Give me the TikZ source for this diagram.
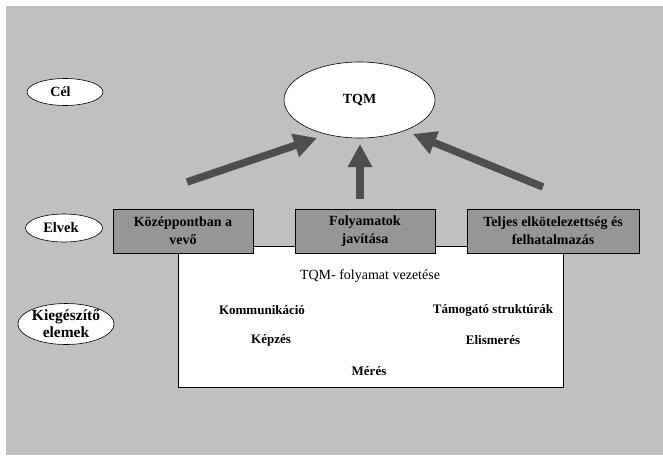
\documentclass[tikz,border=0pt]{standalone}
\usepackage{fontspec}
\setmainfont{Liberation Serif}
\usetikzlibrary{shapes.geometric,arrows.meta}
\definecolor{bggray}{RGB}{192,192,192}
\definecolor{boxgray}{RGB}{150,150,150}
\definecolor{arrowgray}{RGB}{78,78,78}
\tikzset{
  lbl/.style={ellipse,draw=black,line width=0.6pt,fill=white,inner sep=0pt,font=\fontsize{14}{16}\selectfont\bfseries,align=center},
  principle/.style={rectangle,draw=black,line width=0.8pt,fill=boxgray,inner sep=0pt,minimum height=44pt,align=center,font=\fontsize{14}{18}\selectfont\bfseries},
  item/.style={font=\fontsize{13}{15}\selectfont\bfseries,inner sep=0pt},
  bigarrow/.style={draw=arrowgray,line width=7.5pt,-{Triangle[width=23pt,length=23pt]},arrowgray}
}
\begin{document}
\begin{tikzpicture}[x=1pt,y=-1pt]
\useasboundingbox (0,0) rectangle (663,455);
\fill[bggray] (6,6) rectangle (663,455);

% left labels
\node[lbl,minimum width=76pt,minimum height=27pt] (cel) at (65,92) {C\'el\hspace{9pt}};
\node[lbl,minimum width=77pt,minimum height=28pt,font=\fontsize{14.5}{16}\selectfont\bfseries] (elvek) at (64,228) {Elvek\hspace{6pt}};
\node[lbl,minimum width=88pt,minimum height=41pt,font=\fontsize{15.5}{17}\selectfont\bfseries] (kieg) at (66,324) {Kieg\'esz\'it\H{o}\\elemek};

% goal
\node[ellipse,draw=black,line width=0.6pt,fill=white,minimum width=151pt,minimum height=76pt,inner sep=0pt,font=\fontsize{14}{16}\selectfont\bfseries] (tqm) at (359.5,100) {TQM};

% white supporting box
\node[rectangle,draw=black,line width=0.8pt,fill=white,minimum width=385pt,minimum height=141pt,inner sep=0pt] (support) at (370.5,316.5) {};

% principle boxes
\node[principle,minimum width=140pt] (p1) at (183,231) {K\"oz\'eppontban a\\vev\H{o}};
\node[principle,minimum width=140pt] (p2) at (365,231) {Folyamatok\\jav\'it\'asa};
\node[principle,minimum width=172pt] (p3) at (553,231) {Teljes elk\"otelezetts\'eg \'es\\felhatalmaz\'as};

% items in white box
\node[font=\fontsize{14}{16}\selectfont,inner sep=0pt] (lead) at (370,276) {TQM- folyamat vezet\'ese};
\node[item] (komm) at (262,310) {Kommunik\'aci\'o};
\node[item] (tam) at (493,310) {T\'amogat\'o strukt\'ur\'ak};
\node[item] (kep) at (271,340) {K\'epz\'es};
\node[item] (elis) at (493,340) {Elismer\'es};
\node[item] (mer) at (369,371) {M\'er\'es};

% arrows
\coordinate (a1) at (187,182);
\coordinate (t1) at (317,138);
\coordinate (a2) at (360,199);
\coordinate (t2) at (360,144);
\coordinate (a3) at (543,187);
\coordinate (t3) at (413,134);
\draw[bigarrow] (a1) -- (t1);
\draw[bigarrow] (a2) -- (t2);
\draw[bigarrow] (a3) -- (t3);
\end{tikzpicture}
\end{document}
